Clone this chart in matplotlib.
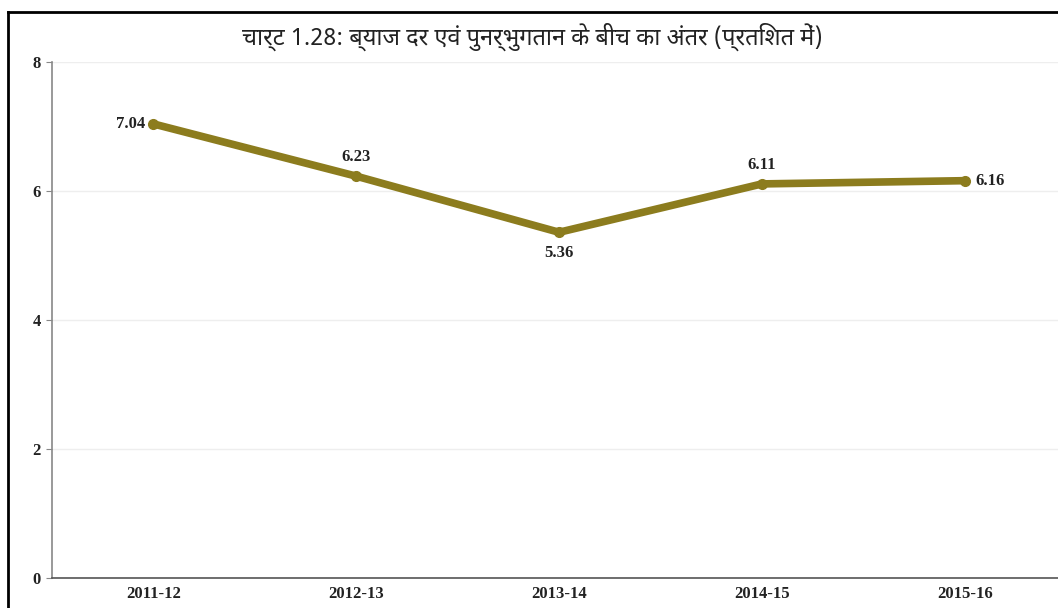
import matplotlib
matplotlib.use("Agg")
import matplotlib.pyplot as plt
from matplotlib.lines import Line2D

categories = ["2011-12", "2012-13", "2013-14", "2014-15", "2015-16"]
values = [7.04, 6.23, 5.36, 6.11, 6.16]
yticks = [0, 2, 4, 6, 8]
title = "चार्ट 1.28: ब्याज दर एवं पुनर्भुगतान के बीच का अंतर (प्रतिशत में)"

plt.rcParams['font.family'] = ['Noto Sans Devanagari', 'Noto Sans', 'DejaVu Sans']

fig = plt.figure(figsize=(10.58, 6.08), dpi=100)
ax = fig.add_axes([52/1058, 1-578/608, 1-52/1058, (578-62)/608])

x = list(range(len(categories)))
color = "#8C7C1E"
ax.plot(x, values, color=color, lw=5.5, solid_capstyle='round', solid_joinstyle='round',
        marker='o', markersize=7, zorder=3)

serif = dict(family='Liberation Serif', fontweight='bold', fontsize=12, color='#222222')
offsets = [(-6, 0, 'right', 'center'), (0, 8, 'center', 'bottom'), (0, -9, 'center', 'top'),
           (0, 8, 'center', 'bottom'), (8, 0, 'left', 'center')]
for xi, v, (dx, dy, ha, va) in zip(x, values, offsets):
    ax.annotate(f"{v:.2f}", (xi, v), xytext=(dx, dy),
                textcoords='offset points', ha=ha, va=va, **serif)

ax.set_xlim(-0.5, 4.46)
ax.set_ylim(0, 8)
ax.set_yticks(yticks)
ax.set_xticks(x)
ax.set_xticklabels(categories, **serif)
ax.set_yticklabels([str(t) for t in yticks], **serif)
ax.grid(axis='y', color='#eeeeee', lw=1)
ax.set_axisbelow(True)
for s in ['top', 'right']:
    ax.spines[s].set_visible(False)
ax.spines['left'].set_color('#888888')
ax.spines['bottom'].set_color('#555555')
ax.spines['left'].set_linewidth(1.2)
ax.spines['bottom'].set_linewidth(1.2)
ax.tick_params(axis='y', length=4, color='#888888', pad=4)
ax.tick_params(axis='x', length=0, pad=6)

fig.text(532/1058, 1-37/608, title, ha='center', va='center', fontsize=17,
         fontweight='bold', color='#222222')

# frame border lines (left and top)
fig.add_artist(Line2D([8/1058, 8/1058], [0, 1-12/608], color='black', lw=2, transform=fig.transFigure))
fig.add_artist(Line2D([8/1058, 1], [1-12/608, 1-12/608], color='black', lw=2, transform=fig.transFigure))

fig.savefig("out.png", dpi=100)
